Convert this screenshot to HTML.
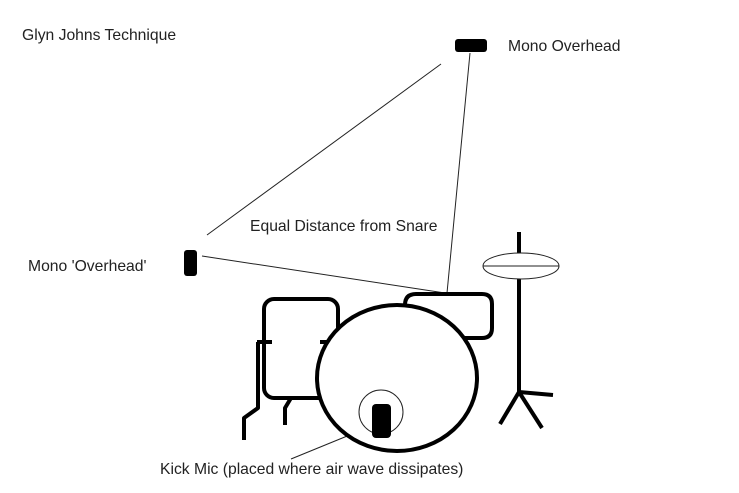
<!DOCTYPE html>
<html><head><style>
html,body{margin:0;padding:0;background:#fff;}
svg{display:block;}
text{font-family:"Liberation Sans",Arial,sans-serif;font-size:15.7px;fill:#222;}
</style></head><body>
<svg width="739" height="493" viewBox="0 0 739 493" xmlns="http://www.w3.org/2000/svg">
<text x="22" y="40">Glyn Johns Technique</text>
<text x="508" y="51">Mono Overhead</text>
<text x="28" y="271">Mono 'Overhead'</text>
<text x="250" y="231">Equal Distance from Snare</text>
<text x="160" y="474">Kick Mic (placed where air wave dissipates)</text>

<rect x="455" y="39" width="32" height="13" rx="3" fill="#000"/>
<rect x="184" y="250" width="13" height="26" rx="3" fill="#000"/>
<g stroke="#222" stroke-width="1" fill="none">
<line x1="441" y1="64" x2="207" y2="235"/>
<line x1="470" y1="53" x2="447" y2="293"/>
<line x1="202" y1="256" x2="445" y2="293"/>
<line x1="357" y1="432" x2="291" y2="459"/>
</g>

<g stroke="#000" stroke-width="4" fill="none" stroke-linejoin="round">
<rect x="264" y="299" width="74" height="99" rx="10"/>
<line x1="257" y1="342" x2="272" y2="342"/>
<line x1="320" y1="342" x2="330" y2="342"/>
<polyline points="258,342 258,408 244,418 244,440"/>
<polyline points="291,398 285,408 285,425"/>
<path d="M405,305 Q405,294 416,294 L482,294 Q492,294 492,304 L492,328 Q492,338 482,338 L452,338"/>
<line x1="455" y1="336" x2="452" y2="340"/>
<ellipse cx="397" cy="378" rx="80" ry="73" fill="#fff"/>
<line x1="519" y1="232" x2="519" y2="254"/>
<line x1="519" y1="279" x2="519" y2="392"/>
<line x1="519" y1="392" x2="500" y2="424"/>
<line x1="519" y1="392" x2="542" y2="428"/>
<line x1="519" y1="392" x2="553" y2="395"/>
</g>
<ellipse cx="521" cy="266" rx="38" ry="13" fill="#fff" stroke="#222" stroke-width="1"/>
<line x1="483" y1="266" x2="559" y2="266" stroke="#222" stroke-width="1"/>
<circle cx="381" cy="412" r="22" fill="none" stroke="#222" stroke-width="1"/>
<rect x="372" y="404" width="19" height="34" rx="4" fill="#000"/>
</svg>
</body></html>
